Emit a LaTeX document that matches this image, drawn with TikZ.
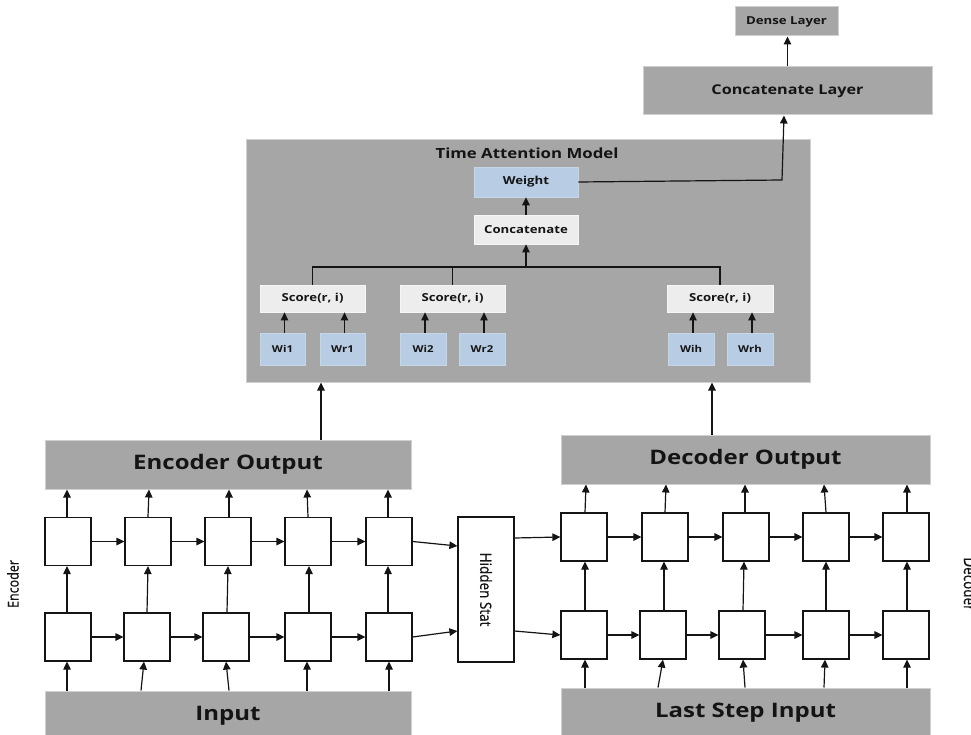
\documentclass[tikz,border=0pt]{standalone}
\usepackage{fontspec}
\setmainfont{Open Sans}[FakeStretch=1.2]
\newfontfamily\sidefont{Open Sans}[FakeBold=0.8]
\usetikzlibrary{arrows.meta}

\definecolor{boxgray}{HTML}{A6A6A6}
\definecolor{edgegray}{HTML}{D0D0D0}
\definecolor{scoregray}{HTML}{EDEDED}
\definecolor{scoreedge}{HTML}{F6F6F6}
\definecolor{wblue}{HTML}{B8CCE4}
\definecolor{ink}{HTML}{141414}

\begin{document}
\begin{tikzpicture}[x=1pt,y=-1pt,
  arr/.style={-{Triangle[length=8pt,width=7.5pt]}, line width=1.2pt, draw=ink},
  link/.style={line width=1.2pt, draw=ink},
  cell/.style={draw=ink, line width=1.2pt, fill=white, minimum width=46pt, minimum height=48pt, inner sep=0pt},
  layer/.style={draw=edgegray, line width=1pt, fill=boxgray, inner sep=0pt, text=ink,
    font=\bfseries\fontsize{20}{24}\selectfont},
  smalllayer/.style={draw=edgegray, line width=1pt, fill=boxgray, inner sep=0pt, text=ink},
  scorebox/.style={draw=scoreedge, line width=0.8pt, fill=scoregray, inner sep=0pt, text=ink,
    minimum width=105pt, minimum height=27pt, font=\bfseries\fontsize{11}{13}\selectfont},
  wbox/.style={draw=wblue!80!white, line width=0.6pt, fill=wblue, inner sep=0pt, text=ink,
    minimum width=45pt, minimum height=32pt, font=\bfseries\fontsize{9.5}{11}\selectfont},
  sidelabel/.style={text=ink, inner sep=0pt, font=\sidefont\fontsize{13.5}{16}\selectfont}]

\useasboundingbox (0,0) rectangle (971,735);
\clip (0,0) rectangle (971,735);
\fill[white] (0,0) rectangle (971,735);

% ---------- output head ----------
\node[smalllayer, minimum width=103pt, minimum height=29pt,
  font=\bfseries\fontsize{11}{13}\selectfont] (dense) at (786.5,21.5) {Dense Layer};
\node[smalllayer, minimum width=289pt, minimum height=48pt,
  font=\bfseries\fontsize{13.5}{16}\selectfont] (cl) at (787.5,91) {Concatenate Layer};
\draw[arr] (cl.north) -- (cl.north |- dense.south);

% ---------- attention block ----------
\node[draw=edgegray, line width=1pt, fill=boxgray, minimum width=564pt, minimum height=242pt,
  inner sep=0pt] (tam) at (528,261) {};
\node[text=ink, inner sep=0pt, font=\bfseries\fontsize{14}{16}\selectfont] (ttl) at (527,153) {Time Attention Model};

\node[wbox, minimum width=104pt, minimum height=30pt, font=\bfseries\fontsize{11}{13}\selectfont]
  (wt) at (526,182) {Weight};
\node[scorebox, minimum width=104pt, minimum height=29pt] (cc) at (526,229.5) {Concatenate};
\draw[arr] (cc.north) -- (wt.south);

\node[scorebox] (s1) at (312.5,298.5) {Score(r, i)};
\node[scorebox] (s2) at (452.5,298.5) {Score(r, i)};
\node[scorebox, minimum width=106pt] (s3) at (720,298.5) {Score(r, i)};

\node[wbox] (wi1) at (282.5,349) {Wi1};
\node[wbox] (wr1) at (342.5,349) {Wr1};
\node[wbox, minimum width=46pt] (wi2) at (423,349) {Wi2};
\node[wbox, minimum width=46pt] (wr2) at (482,349) {Wr2};
\node[wbox, minimum width=46pt] (wih) at (691,349) {Wih};
\node[wbox, minimum width=46pt] (wrh) at (750,349) {Wrh};

\foreach \w/\s in {wi1/s1, wr1/s1, wi2/s2, wr2/s2, wih/s3, wrh/s3}
  \draw[arr] ([xshift=2pt]\w.north) -- ([xshift=2pt]\w.north |- \s.south);

\coordinate (bus) at (526,267);
\draw[link] (s1.north) -- (s1.north |- bus) -- (s3.north |- bus) -- (s3.north);
\draw[link] (s2.north) -- (s2.north |- bus);
\draw[arr] (bus) -- (cc.south);

\coordinate (bend) at (782,180);
\draw[arr] (wt.east) -- (bend) -- ([xshift=-3.5pt]cl.south);

% ---------- encoder ----------
\node[layer, minimum width=366pt, minimum height=49pt] (eo) at (228,464.5) {Encoder Output};
\node[layer, minimum width=366pt, minimum height=50pt] (in) at (228,716) {\raisebox{2pt}{Input}};

\foreach \i/\x in {1/68, 2/148, 3/228, 4/308, 5/389}
  \node[cell] (e1\i) at (\x,541.5) {};
\foreach \i/\x in {1/68, 2/147, 3/226, 4/308, 5/389}
  \node[cell] (e2\i) at (\x,637) {};

\foreach \i/\j in {1/2, 2/3, 3/4, 4/5} {
  \draw[arr] (e1\i.east) -- (e1\j.west);
  \draw[arr] (e2\i.east) -- (e2\j.west);
}

% input -> lower cells
\foreach \i/\a/\b in {1/-1/-1, 2/-6/-3, 3/3/0, 4/-1/-1, 5/0/0} {
  \coordinate (ei\i) at (e2\i.south |- in.north);
  \draw[arr] ([xshift=\a pt]ei\i) -- ([xshift=\b pt]e2\i.south);
}
% lower cells -> upper cells
\foreach \i/\a/\b in {1/-1/-1, 2/0/0, 3/1/0, 4/1/1, 5/-1/-1}
  \draw[arr] ([xshift=\a pt]e2\i.north) -- ([xshift=\b pt]e1\i.south);
% upper cells -> encoder output
\foreach \i/\a/\b in {1/-1/-1, 2/0/1, 3/1/1, 4/0/-1, 5/-1/-1} {
  \coordinate (eu\i) at (e1\i.north |- eo.south);
  \draw[arr] ([xshift=\a pt]e1\i.north) -- ([xshift=\b pt]eu\i);
}

% ---------- hidden state ----------
\node[draw=ink, line width=1.2pt, fill=white, minimum width=56pt, minimum height=145pt, inner sep=0pt]
  (hs) at (486,589.5) {};
\node[sidelabel, rotate=-90] (hst) at (hs.center) {\scalebox{1}[1.15]{Hidden Stat}};
\draw[arr] (e15.east) -- ([yshift=43.5pt]hs.west);
\draw[arr] (e25.east) -- ([yshift=-41.5pt]hs.west);

% ---------- decoder ----------
\node[layer, minimum width=369pt, minimum height=49pt] (do) at (745.5,459.5) {Decoder Output};
\node[layer, minimum width=369pt, minimum height=50pt] (ls) at (745.5,713) {\raisebox{2pt}{Last Step Input}};

\foreach \i/\x in {1/584, 2/665, 3/746, 4/826, 5/906}
  \node[cell] (d1\i) at (\x,537) {};
\foreach \i/\x in {1/584, 2/663, 3/742, 4/826, 5/906}
  \node[cell] (d2\i) at (\x,635) {};

\foreach \i/\j in {1/2, 2/3, 3/4, 4/5} {
  \draw[arr] (d1\i.east) -- (d1\j.west);
  \draw[arr] (d2\i.east) -- (d2\j.west);
}

\foreach \i/\a/\b in {1/1/1, 2/-5/0, 3/3/1, 4/-2/-1, 5/1/1} {
  \coordinate (di\i) at (d2\i.south |- ls.north);
  \draw[arr] ([xshift=\a pt]di\i) -- ([xshift=\b pt]d2\i.south);
}
\foreach \i/\a/\b in {1/1/1, 2/1/-1, 3/1/-2, 4/0/0, 5/1/1}
  \draw[arr] ([xshift=\a pt]d2\i.north) -- ([xshift=\b pt]d1\i.south);
\foreach \i/\a/\b in {1/1/2, 2/0/1, 3/-1/-1, 4/0/-2, 5/1/1} {
  \coordinate (du\i) at (d1\i.north |- do.south);
  \draw[arr] ([xshift=\a pt]d1\i.north) -- ([xshift=\b pt]du\i);
}

\draw[arr] ([yshift=51.5pt]hs.east) -- (d11.west);
\draw[arr] ([yshift=-41.5pt]hs.east) -- (d21.west);

% ---------- into the attention block ----------
\coordinate (eot) at ([xshift=93pt]eo.north);
\draw[arr] (eot) -- (eot |- tam.south);
\coordinate (dot) at ([xshift=-33.5pt]do.north);
\draw[arr] (dot) -- (dot |- tam.south);

% ---------- side labels ----------
\node[sidelabel, rotate=90, font=\sidefont\fontsize{12.5}{15}\selectfont] (enc) at (13,584) {\scalebox{1}[1.2]{Encoder}};
\node[sidelabel, rotate=-90] (dec) at (970,584) {\scalebox{1}[1.2]{Decoder}};

\end{tikzpicture}
\end{document}
